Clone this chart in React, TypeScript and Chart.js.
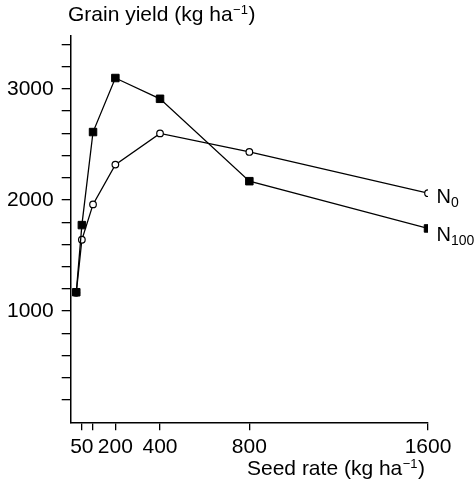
import React, { useEffect, useRef } from "react";
import { Chart, registerables } from "chart.js";

Chart.register(...registerables);

const seedRates = [25, 50, 100, 200, 400, 800, 1600];
const yieldN100 = [1170, 1774, 2611, 3097, 2910, 2169, 1744];
const yieldN0 = [1165, 1642, 1960, 2318, 2599, 2432, 2061];

const xTickValues = [50, 100, 200, 400, 800, 1600];
const xTickLabels = ["50", "", "200", "400", "800", "1600"];
const yTickValues = [200, 400, 600, 800, 1000, 1200, 1400, 1600, 1800, 2000, 2200, 2400, 2600, 2800, 3000, 3200, 3400];
const yTickLabels = ["", "", "", "", "1000", "", "", "", "", "2000", "", "", "", "", "3000", "", ""];

const FONT = '"Liberation Sans", Arial, Helvetica, sans-serif';

const textPlugin = {
  id: "texts",
  afterDraw(chart: any) {
    const ctx = chart.ctx;
    ctx.save();
    ctx.fillStyle = "#000";
    ctx.textBaseline = "alphabetic";
    ctx.textAlign = "left";

    const drawUnit = (x: number, y: number, main: string) => {
      ctx.font = `21px ${FONT}`;
      ctx.fillText(main, x, y);
      let cx = x + ctx.measureText(main).width + 0.5;
      ctx.font = `13px ${FONT}`;
      ctx.fillText("\u22121", cx, y - 7);
      cx += ctx.measureText("\u22121").width + 0.5;
      ctx.font = `21px ${FONT}`;
      ctx.fillText(")", cx, y);
    };

    drawUnit(68, 21, "Grain yield (kg ha");
    drawUnit(247, 475, "Seed rate (kg ha");

    const xs = chart.scales.x;
    const ys = chart.scales.y;
    const last = seedRates.length - 1;
    const drawN = (val: number, sub: string, dy: number) => {
      const px = xs.getPixelForValue(seedRates[last]) + 8.5;
      const py = ys.getPixelForValue(val) + dy;
      ctx.font = `20px ${FONT}`;
      ctx.fillText("N", px, py);
      const w = ctx.measureText("N").width;
      ctx.font = `14px ${FONT}`;
      ctx.fillText(sub, px + w, py + 4);
    };
    drawN(yieldN0[last], "0", 9.5);
    drawN(yieldN100[last], "100", 12.5);
    ctx.restore();
  },
};

export default function App() {
  const ref = useRef<HTMLCanvasElement | null>(null);
  useEffect(() => {
    if (!ref.current) return;
    const chart = new Chart(ref.current, {
      type: "line",
      data: {
        datasets: [
          {
            label: "N100",
            data: seedRates.map((x, i) => ({ x, y: yieldN100[i] })),
            borderColor: "#000",
            borderWidth: 1.3,
            backgroundColor: "#000",
            pointStyle: "rect",
            pointRadius: 5.3,
            pointBorderWidth: 1,
            pointBackgroundColor: "#000",
            pointBorderColor: "#000",
            tension: 0,
          },
          {
            label: "N0",
            data: seedRates.map((x, i) => ({ x, y: yieldN0[i] })),
            borderColor: "#000",
            borderWidth: 1.3,
            backgroundColor: "#fff",
            pointStyle: "circle",
            pointRadius: 3.3,
            pointBorderWidth: 1.2,
            pointBackgroundColor: "#fff",
            pointBorderColor: "#000",
            tension: 0,
          },
        ],
      },
      options: {
        animation: false,
        responsive: false,
        layout: { padding: { left: 0, right: 48, top: 36, bottom: 0 } },
        plugins: { legend: { display: false }, tooltip: { enabled: false } },
        scales: {
          x: {
            type: "linear",
            min: 0,
            max: 1600,
            afterBuildTicks: (s: any) => {
              s.ticks = xTickValues.map((v) => ({ value: v }));
            },
            afterFit: (s: any) => {
              s.height = 60.7;
            },
            ticks: {
              autoSkip: false,
              maxRotation: 0,
              padding: 4,
              color: "#000",
              font: { family: FONT, size: 21 },
              callback: (v: any) => xTickLabels[xTickValues.indexOf(Number(v))] ?? "",
            },
            grid: { drawOnChartArea: false, drawTicks: true, tickLength: 8, color: "#000", lineWidth: 1.3 },
            border: { display: true, color: "#000", width: 1.5 },
          },
          y: {
            type: "linear",
            min: 0,
            max: 3475,
            afterBuildTicks: (s: any) => {
              s.ticks = yTickValues.map((v) => ({ value: v }));
            },
            afterFit: (s: any) => {
              s.width = 70.7;
            },
            ticks: {
              autoSkip: false,
              padding: 8,
              color: "#000",
              font: { family: FONT, size: 21 },
              callback: (v: any) => yTickLabels[yTickValues.indexOf(Number(v))] ?? "",
            },
            grid: { drawOnChartArea: false, drawTicks: true, tickLength: 9, color: "#000", lineWidth: 1.3 },
            border: { display: true, color: "#000", width: 1.5 },
          },
        },
      },
      plugins: [textPlugin],
    } as any);
    return () => chart.destroy();
  }, []);
  return (
    <div style={{ position: "fixed", left: 0, top: 0, width: 476, height: 483, background: "#fff" }}>
      <canvas ref={ref} width={476} height={483} style={{ display: "block" }} />
    </div>
  );
}
